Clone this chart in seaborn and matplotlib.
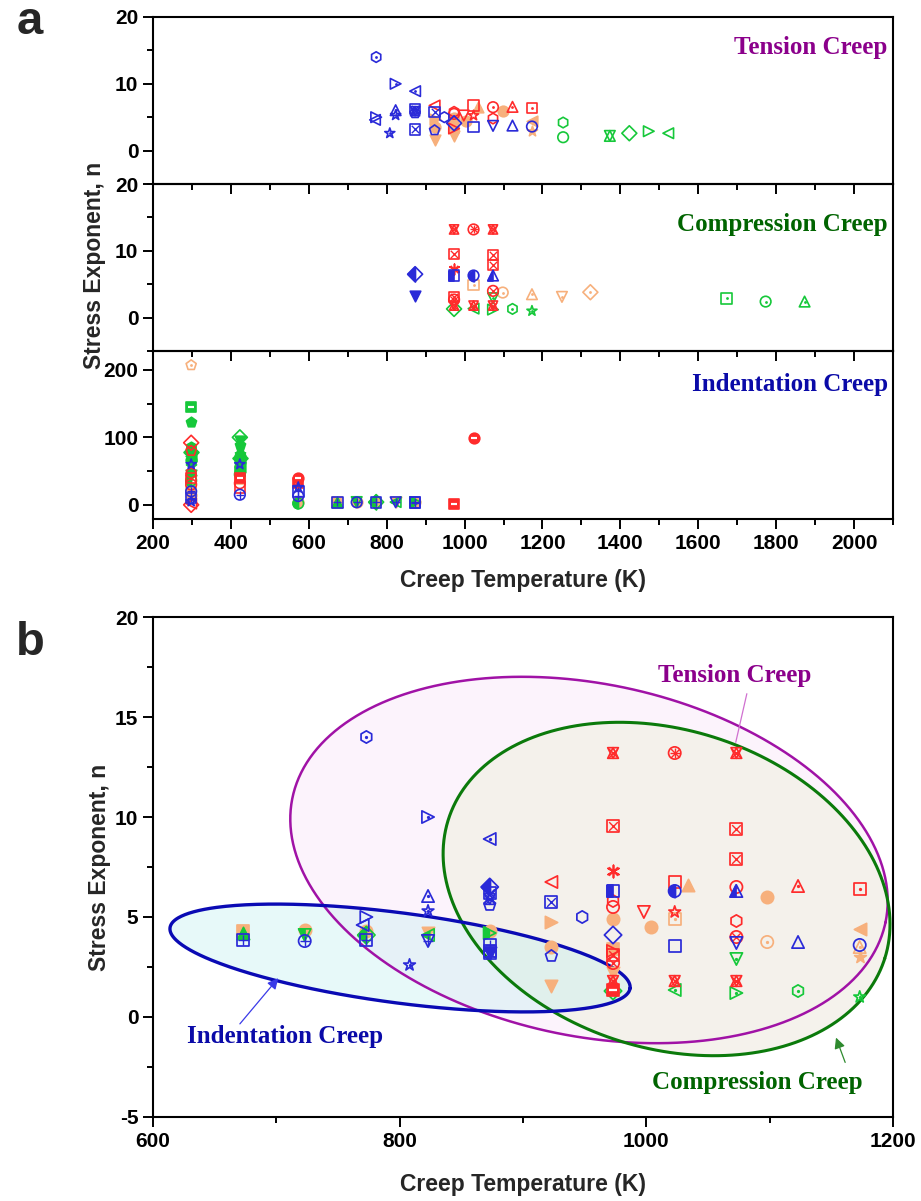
import warnings
warnings.filterwarnings("ignore")
import numpy as np
import pandas as pd
import matplotlib
matplotlib.use("Agg")
import matplotlib.pyplot as plt
from matplotlib.markers import MarkerStyle
from matplotlib.ticker import MultipleLocator
import seaborn as sns

# ---------------------------------------------------------------- data
# style code per point: colour (b/r/o/g), shape, fill
#   fill: o open, . open+dot, f filled, h half filled, x crossed, + plus, # both, - filled+bar
tension_T = [773, 823, 873, 823, 823, 773, 770, 808, 873, 873, 873, 873, 923, 923, 948, 973, 1023, 1073, 1123, 1173,
             923, 973, 973, 998, 1023, 1023, 1073, 1073, 1123, 1173, 973,
             923, 923, 923, 973, 973, 973, 1004, 1034, 1098, 1173, 1173,
             1253, 1253, 1373, 1373, 1423, 1473, 1523]
tension_n = [14.0, 10.0, 8.9, 6.05, 5.3, 5.0, 4.6, 2.6, 6.2, 5.9, 5.6, 3.2, 5.75, 3.05, 5.0, 4.1, 3.55, 3.7, 3.75, 3.6,
             6.75, 5.8, 5.5, 5.25, 6.75, 5.25, 6.5, 4.8, 6.55, 6.4, 3.3,
             4.75, 3.5, 1.55, 4.9, 3.4, 2.2, 4.5, 6.6, 6.0, 4.4, 3.0,
             4.2, 2.0, 2.2, 2.2, 2.6, 2.9, 2.6]
tension_style = ['bh.', 'b>.', 'b<.', 'b^.', 'b*.', 'b>o', 'b<o', 'b*.', 'bsx', 'bHx', 'bpo', 'bsx', 'bsx', 'bpo',
                 'bho', 'bDo', 'bso', 'bvo', 'b^o', 'boo',
                 'r<o', 'rho', 'roo', 'rvo', 'rso', 'r*o', 'ro.', 'rho', 'r^.', 'rs.', 'r>o',
                 'o>f', 'oof', 'ovf', 'oof', 'osf', 'ovf', 'oof', 'o^f', 'oof', 'o<f', 'o*f',
                 'gho', 'goo', 'g^o', 'gvo', 'gDo', 'g>o', 'g<o']

compression_T = [873, 873, 973, 1023, 1073,
                 973, 1023, 1073, 973, 1073, 1073, 973, 973, 973, 973, 1023, 1073, 1073,
                 1023, 1098, 1173, 1250, 1323,
                 973, 1023, 1073, 1073, 1123, 1173, 1673, 1773, 1873]
compression_n = [6.5, 3.2, 6.3, 6.3, 6.3,
                 13.2, 13.2, 13.2, 9.55, 9.4, 7.9, 7.3, 3.1, 2.7, 1.8, 1.8, 4.0, 1.8,
                 4.9, 3.75, 3.5, 3.1, 3.8,
                 1.3, 1.35, 1.2, 2.9, 1.3, 1.0, 2.9, 2.4, 2.4]
compression_style = ['bDh', 'bvf', 'bsh', 'boh', 'b^h',
                     'rHx', 'ro#', 'rHx', 'rsx', 'rsx', 'rsx', 'rAx', 'rsx', 'rox', 'rHx', 'rHx', 'rox', 'rHx',
                     'os.', 'oo.', 'o^.', 'ov.', 'oD.',
                     'gD.', 'g<.', 'g>.', 'gv.', 'gh.', 'g*.', 'gs.', 'go.', 'g^.']

indent_T = [298, 298, 298, 298, 298, 298, 298, 298, 298, 298, 298, 298, 298, 298, 298, 298, 298, 298, 298, 298,
            298, 298, 298, 298,
            423, 423, 423, 423, 423, 423, 423, 423, 423, 423, 423, 423, 423, 423, 423, 423,
            573, 573, 573, 573, 573, 573, 573,
            673, 673, 673, 723, 723, 723, 773, 773, 773, 823, 823, 823, 873, 873, 873, 873,
            973, 1023]
indent_n = [207, 145, 123, 92, 86, 80, 78, 72, 66, 60, 58, 52, 47, 44, 40, 36, 30, 24, 20, 15,
            10, 5, 2, 0,
            100, 95, 88, 82, 76, 70, 64, 60, 56, 50, 45, 40, 38, 32, 26, 15,
            40, 32, 26, 20, 13, 4, 2,
            4.3, 4.2, 3.85, 4.35, 4.1, 3.8, 4.3, 4.1, 3.85, 4.2, 4.1, 3.8, 4.3, 4.2, 3.6, 3.3,
            1.35, 99]
indent_style = ['op.', 'gs-', 'gpf', 'rDo', 'ghf', 'rpo', 'gDf', 'g<f', 'gof', 'b*o', 'g*f', 'g^f', 'rho', 'gvf',
                'rso', 'goh', 'roo', 'osf', 'bo+', 'oof', 'bs+', 'b*o', 'r<o', 'rDo',
                'gD.', 'gvf', 'gpf', 'g^f', 'g*f', 'gDf', 'gof', 'b*o', 'g<f', 'gsf', 'goh', 'rs-', 'osf', 'roo',
                'rso', 'bo+',
                'ro-', 'rs-', 'b*o', 'bs+', 'bo+', 'oof', 'goh',
                'osf', 'g^f', 'bs+', 'oof', 'gvh', 'bo+', 'oof', 'gDh', 'bs+', 'ovf', 'g<h', 'bv+', 'oof', 'g>h',
                'bs+', 'bs+',
                'rs-', 'ro-']

# ---------------------------------------------------------------- style
sns.set_style("ticks")
plt.rcParams["font.family"] = ["Liberation Sans", "DejaVu Sans"]
plt.rcParams["font.weight"] = "bold"
plt.rcParams["axes.labelweight"] = "bold"
plt.rcParams["axes.unicode_minus"] = False
SERIF = ["Liberation Serif", "DejaVu Serif"]

COLORS = {"b": "#2a2ad8", "r": "#ff2b2b", "o": "#f7b07c", "g": "#16c83a"}
ORDER = ["o", "g", "r", "b"]
PURPLE, DKGREEN, DKBLUE = "#8b008b", "#006400", "#0a0aa8"


def scat(ax, grp, marker, s, lw, fc, ec, z=3):
    sns.scatterplot(data=grp, x="T", y="n", ax=ax, marker=marker, s=s, linewidth=lw,
                    facecolor=fc, edgecolor=ec, legend=False, zorder=z)


def line_marker(ax, grp, marker, s, lw, c, z=3):
    sns.scatterplot(data=grp, x="T", y="n", ax=ax, marker=marker, s=s, linewidth=lw,
                    color=c, legend=False, zorder=z)


def draw_group(ax, grp, key, s, lw):
    c = COLORS[key[0]]
    shape, fill = key[1], key[2]
    if shape == "H":
        scat(ax, grp, "^", s * 0.75, lw, "none", c)
        scat(ax, grp, "v", s * 0.75, lw, "none", c)
    elif shape == "A":
        line_marker(ax, grp, (6, 2, 0), s, lw, c)
    else:
        if fill in "f-":
            scat(ax, grp, shape, s, lw, c, c)
        else:
            scat(ax, grp, shape, s, lw, "none", c)
        if fill == "h":
            scat(ax, grp, MarkerStyle(shape, fillstyle="left"), s, lw, c, c)
    if fill == ".":
        scat(ax, grp, "o", s * 0.07, 0, c, c)
    if fill in "x#":
        line_marker(ax, grp, "x", s * 0.5, lw * 0.8, c)
    if fill in "+#":
        line_marker(ax, grp, "+", s * 0.6, lw * 0.8, c)
    if fill == "-":
        line_marker(ax, grp, "_", s * 0.4, lw * 1.3, "white")


def draw_points(ax, df, s, lw):
    df = df.copy()
    df["col"] = df["style"].str[0]
    for ck in ORDER:
        sub = df[df["col"] == ck]
        for key, grp in sub.groupby("style", sort=False):
            draw_group(ax, grp, key, s, lw)


def style_axes(ax, xlim, xmaj, xmin, ylim, ymaj, ymin, xlabels=True):
    ax.set_facecolor("none")
    ax.set_xlim(xlim)
    ax.set_ylim(ylim)
    ax.xaxis.set_major_locator(MultipleLocator(xmaj))
    ax.xaxis.set_minor_locator(MultipleLocator(xmin))
    ax.yaxis.set_major_locator(MultipleLocator(ymaj))
    ax.yaxis.set_minor_locator(MultipleLocator(ymin))
    ax.tick_params(which="both", direction="out", top=False, right=False, width=1.4,
                   labelsize=15, colors="black")
    ax.tick_params(which="major", length=7)
    ax.tick_params(which="minor", length=4)
    for sp in ax.spines.values():
        sp.set_visible(True)
        sp.set_linewidth(1.5)
        sp.set_color("black")
    if not xlabels:
        ax.tick_params(labelbottom=False)


tdf = pd.DataFrame({"T": tension_T, "n": tension_n, "style": tension_style})
cdf = pd.DataFrame({"T": compression_T, "n": compression_n, "style": compression_style})
idf = pd.DataFrame({"T": indent_T, "n": indent_n, "style": indent_style})

fig = plt.figure(figsize=(9.21, 12.01), dpi=100)
L, W = 153 / 921, 740 / 921


def frac(top, bot):
    return [L, 1 - bot / 1201, W, (bot - top) / 1201]


ax1 = fig.add_axes(frac(17, 184))
ax2 = fig.add_axes(frac(184, 351))
ax3 = fig.add_axes(frac(351, 519))
axb = fig.add_axes(frac(617, 1117))

# ------------------------------------------------------------- panel a
style_axes(ax1, (200, 2100), 200, 100, (-5, 20), 10, 5, xlabels=False)
style_axes(ax2, (200, 2100), 200, 100, (-5, 20), 10, 5, xlabels=False)
style_axes(ax3, (200, 2100), 200, 100, (-21, 228), 100, 50, xlabels=True)

sa, lwa = 58, 1.2
draw_points(ax1, tdf, sa, lwa)
draw_points(ax2, cdf, sa, lwa)
draw_points(ax3, idf, sa, lwa)
for ax in (ax1, ax2, ax3):
    ax.set_xlabel("")
    ax.set_ylabel("")

ax1.text(0.993, 0.82, "Tension Creep", transform=ax1.transAxes, ha="right", va="center",
         color=PURPLE, fontsize=18, fontweight="bold", family=SERIF)
ax2.text(0.993, 0.76, "Compression Creep", transform=ax2.transAxes, ha="right", va="center",
         color=DKGREEN, fontsize=18, fontweight="bold", family=SERIF)
ax3.text(0.993, 0.80, "Indentation Creep", transform=ax3.transAxes, ha="right", va="center",
         color=DKBLUE, fontsize=18, fontweight="bold", family=SERIF)

ax3.set_xlabel("Creep Temperature (K)", fontsize=16.5, fontweight="bold", labelpad=12)
fig.text(95 / 921, 1 - 265 / 1201, "Stress Exponent, n", rotation=90, ha="center", va="center",
         fontsize=16.5, fontweight="bold")
fig.text(30 / 921, 1 - 22 / 1201, "a", fontsize=34, fontweight="bold", ha="center", va="center")

# ------------------------------------------------------------- panel b
style_axes(axb, (600, 1200), 200, 100, (-5, 20), 5, 2.5, xlabels=True)


def ellipse_pts(ax, center, a_px, b_px, tilt_deg):
    cx, cy = ax.transData.transform(center)
    t = np.linspace(0, 2 * np.pi, 400)
    th = np.deg2rad(-tilt_deg)
    ex, ey = a_px * np.cos(t), b_px * np.sin(t)
    px = cx + ex * np.cos(th) - ey * np.sin(th)
    py = cy + ex * np.sin(th) + ey * np.cos(th)
    return ax.transData.inverted().transform(np.column_stack([px, py]))


ell_tension = ellipse_pts(axb, (953.5, 7.85), 303, 176, 11.9)
ell_comp = ellipse_pts(axb, (1016.4, 6.4), 229, 159, 17.7)
ell_ind = ellipse_pts(axb, (800.3, 2.95), 232, 45, 7.5)

axb.fill(ell_tension[:, 0], ell_tension[:, 1], color="#f7dff7", alpha=0.35, lw=0, zorder=0.5)
axb.fill(ell_comp[:, 0], ell_comp[:, 1], color="#f4f1ea", alpha=0.9, lw=0, zorder=0.6)
axb.fill(ell_ind[:, 0], ell_ind[:, 1], color="#bdf0f0", alpha=0.35, lw=0, zorder=0.7)
axb.plot(ell_tension[:, 0], ell_tension[:, 1], color="#a012a6", lw=1.8, zorder=1.5)
axb.plot(ell_comp[:, 0], ell_comp[:, 1], color="#0b7a0b", lw=2.2, zorder=1.5)
axb.plot(ell_ind[:, 0], ell_ind[:, 1], color="#0a0ab4", lw=2.4, zorder=1.5)

alldf = pd.concat([tdf, cdf, idf], ignore_index=True)
bdf = alldf[(alldf["T"] >= 600) & (alldf["T"] <= 1200) & (alldf["n"] >= -5) & (alldf["n"] <= 20)]
draw_points(axb, bdf, 78, 1.25)
axb.set_xlabel("Creep Temperature (K)", fontsize=16.5, fontweight="bold", labelpad=16)
axb.set_ylabel("Stress Exponent, n", fontsize=16.5, fontweight="bold", labelpad=3)

axb.text(1072, 17.1, "Tension Creep", ha="center", va="center", color=PURPLE, fontsize=18,
         fontweight="bold", family=SERIF)
axb.annotate("", xy=(1072, 13.6), xytext=(1082, 16.3),
             arrowprops=dict(arrowstyle="-", color="#d070d0", lw=0.9))
axb.text(707, -0.95, "Indentation Creep", ha="center", va="center", color=DKBLUE, fontsize=18,
         fontweight="bold", family=SERIF)
axb.annotate("", xy=(703, 2.05), xytext=(669, -0.45),
             arrowprops=dict(arrowstyle="-|>", color="#3a3ae8", lw=0.9, mutation_scale=16))
axb.text(1090, -3.25, "Compression Creep", ha="center", va="center", color=DKGREEN, fontsize=18,
         fontweight="bold", family=SERIF)
axb.annotate("", xy=(1153, -0.9), xytext=(1162, -2.4),
             arrowprops=dict(arrowstyle="-|>", color="#2e8a2e", lw=0.9, mutation_scale=16))

fig.text(30 / 921, 1 - 643 / 1201, "b", fontsize=34, fontweight="bold", ha="center", va="center")

fig.savefig("out.png", dpi=100)
